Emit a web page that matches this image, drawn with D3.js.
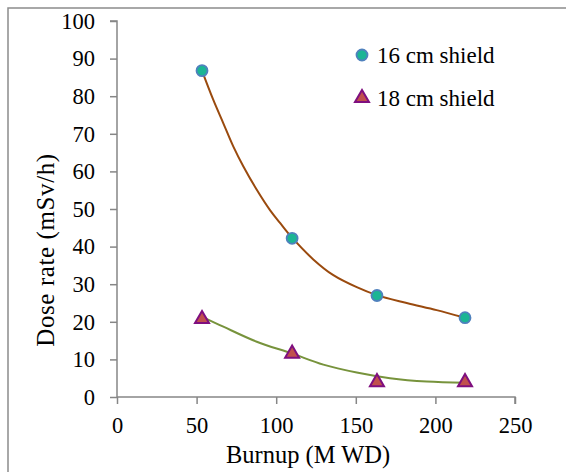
<!DOCTYPE html>
<html><head><meta charset="utf-8">
<script src="https://cdn.jsdelivr.net/npm/d3@7/dist/d3.min.js"></script>
<style>body{margin:0;background:#fff}svg{display:block}text{font-family:"Liberation Serif","Times New Roman",serif;fill:#000}</style>
</head><body><svg id="c" width="566" height="472"></svg>
<script>
// Data
const xTicks = [0, 50, 100, 150, 200, 250];
const yTicks = [0, 10, 20, 30, 40, 50, 60, 70, 80, 90, 100];
const seriesNames = ["16 cm shield", "18 cm shield"];
const burnup = [53.4, 110, 163.3, 218.6];
const dose16 = [86.8, 42.2, 27.0, 21.1];
const dose18 = [21.0, 11.8, 4.2, 4.2];
// trend lines
const trend16X = [53.2, 60.5, 66.8, 73.1, 79.4, 87.8, 96.1, 102.4, 109.7, 123.3, 135.9, 150.6, 163.1, 182.0, 200.8, 217.5];
const trend16Y = [87.0, 79.0, 72.8, 66.6, 61.3, 55.1, 49.7, 46.3, 42.5, 36.6, 32.4, 29.2, 27.1, 25.0, 23.1, 21.2];
const trend18X = [53.2, 66.8, 87.8, 109.7, 129.6, 150.6, 171.5, 194.5, 218.6];
const trend18Y = [21.4, 18.7, 14.7, 11.6, 8.6, 6.5, 5.0, 4.1, 3.8];

const svg = d3.select("#c");
const axisCol = "#868686";
const x = d3.scaleLinear().domain([0, 250]).range([117, 515]);
const y = d3.scaleLinear().domain([0, 100]).range([397, 21]);

// outer border
svg.append("rect").attr("x", 8).attr("y", 8).attr("width", 600).attr("height", 500)
  .attr("fill", "none").attr("stroke", "#8c8c8c").attr("stroke-width", 1.5);

// axes
const yAxis = svg.append("g").attr("transform", "translate(117,0)")
  .call(d3.axisLeft(y).tickValues(yTicks).tickSize(7).tickPadding(15).tickFormat(d3.format("d")));
const xAxis = svg.append("g").attr("transform", "translate(0,397)")
  .call(d3.axisBottom(x).tickValues(xTicks).tickSize(7).tickPadding(13).tickFormat(d3.format("d")));
[yAxis, xAxis].forEach(g => {
  g.select(".domain").attr("stroke", axisCol).attr("stroke-width", 1.5);
  g.selectAll(".tick line").attr("stroke", axisCol).attr("stroke-width", 1.5);
  g.selectAll(".tick text").attr("font-size", 22.5).attr("font-family", "Liberation Serif").attr("fill", "#000");
});
yAxis.select(".domain").attr("d", "M0,397V21H-7");
xAxis.select(".domain").attr("d", "M117,0H515V7");

// titles
svg.append("text").attr("x", 308).attr("y", 463).attr("text-anchor", "middle")
  .attr("font-size", 24.5).text("Burnup (M WD)");
svg.append("text").attr("transform", "translate(54,250) rotate(-90)").attr("text-anchor", "middle")
  .attr("font-size", 25).attr("letter-spacing", 0.6).text("Dose rate (mSv/h)");

// trend lines
const line = d3.line().x(d => x(d[0])).y(d => y(d[1])).curve(d3.curveCatmullRom);
svg.append("path").datum(d3.zip(trend16X, trend16Y)).attr("d", line)
  .attr("fill", "none").attr("stroke", "#9a4a0e").attr("stroke-width", 2);
svg.append("path").datum(d3.zip(trend18X, trend18Y)).attr("d", line)
  .attr("fill", "none").attr("stroke", "#77933c").attr("stroke-width", 2);

// markers
const circFill = "#1bb594", circStroke = "#4f81bd";
const triFill = "#c0504d", triStroke = "#7f0f7f";
const tri = d3.symbol().type(d3.symbolTriangle).size(85);
svg.append("g").selectAll("circle").data(d3.zip(burnup, dose16)).join("circle")
  .attr("cx", d => x(d[0])).attr("cy", d => y(d[1])).attr("r", 5.5)
  .attr("fill", circFill).attr("stroke", circStroke).attr("stroke-width", 1.8);
svg.append("g").selectAll("path").data(d3.zip(burnup, dose18)).join("path")
  .attr("d", tri).attr("transform", d => `translate(${x(d[0])},${y(d[1]) + 1})`)
  .attr("fill", triFill).attr("stroke", triStroke).attr("stroke-width", 2);

// legend
const lg = svg.append("g");
lg.append("circle").attr("cx", 362).attr("cy", 55).attr("r", 5.5)
  .attr("fill", circFill).attr("stroke", circStroke).attr("stroke-width", 1.8);
lg.append("text").attr("x", 377).attr("y", 63).attr("font-size", 23).text(seriesNames[0]);
lg.append("path").attr("d", tri).attr("transform", "translate(362,98)")
  .attr("fill", triFill).attr("stroke", triStroke).attr("stroke-width", 2);
lg.append("text").attr("x", 377).attr("y", 106).attr("font-size", 23).text(seriesNames[1]);
</script></body></html>
